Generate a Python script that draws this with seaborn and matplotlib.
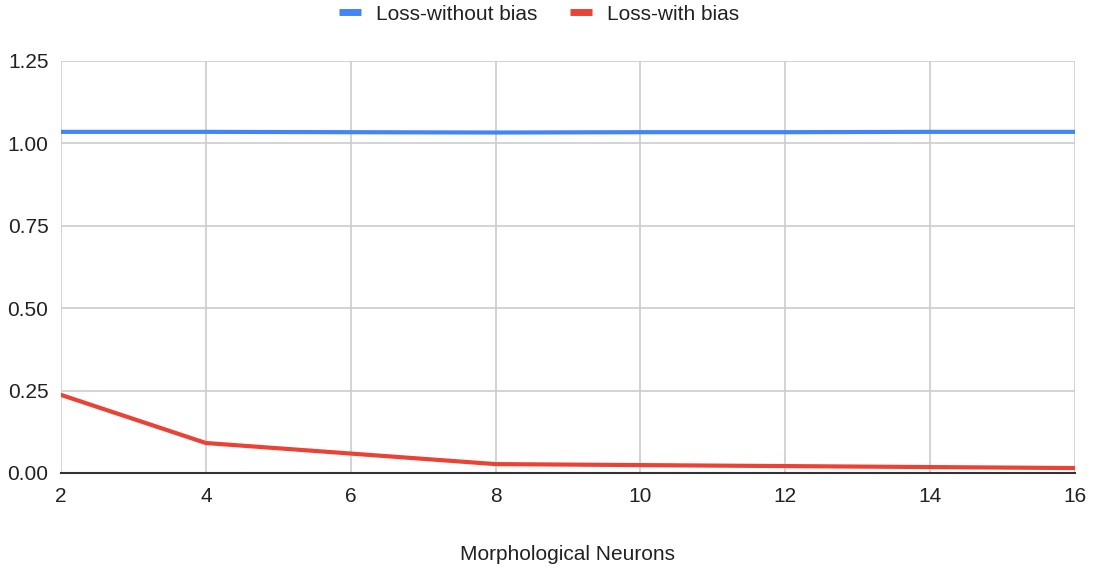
import matplotlib
matplotlib.use("Agg")
import matplotlib.pyplot as plt
from matplotlib.lines import Line2D
import seaborn as sns
import pandas as pd

neurons = [2, 4, 6, 8, 10, 12, 14, 16]
loss_without_bias = [1.035, 1.035, 1.034, 1.033, 1.034, 1.034, 1.035, 1.035]
loss_with_bias = [0.237, 0.091, 0.059, 0.027, 0.024, 0.021, 0.018, 0.015]
y_ticks = [0.00, 0.25, 0.50, 0.75, 1.00, 1.25]
x_ticks = [2, 4, 6, 8, 10, 12, 14, 16]

df = pd.DataFrame({
    "Morphological Neurons": neurons * 2,
    "Loss": loss_without_bias + loss_with_bias,
    "Series": ["Loss-without bias"] * len(neurons) + ["Loss-with bias"] * len(neurons),
})

sns.set_style("white")
plt.rcParams['font.family'] = ['Liberation Sans', 'DejaVu Sans']

FS = 15
fig = plt.figure(figsize=(10.96, 5.75), dpi=100)
ax = fig.add_axes([61/1096, 1 - 473/575, (1075 - 61)/1096, (473 - 61)/575])

palette = {"Loss-without bias": "#4285f4", "Loss-with bias": "#ea4335"}
sns.lineplot(data=df, x="Morphological Neurons", y="Loss", hue="Series",
             palette=palette, linewidth=3, ax=ax, legend=False)

ax.set_xlim(2, 16)
ax.set_ylim(0, 1.25)
ax.set_xticks(x_ticks)
ax.set_xticklabels([str(v) for v in x_ticks])
ax.set_yticks(y_ticks)
ax.set_yticklabels([f"{v:.2f}" for v in y_ticks])
ax.grid(True, color="#cccccc", linewidth=1.2)
ax.set_axisbelow(True)
for s in ["top", "right", "left"]:
    ax.spines[s].set_visible(False)
ax.spines["bottom"].set_color("#333333")
ax.spines["bottom"].set_linewidth(1.5)
ax.tick_params(axis="both", length=0, labelsize=FS, colors="#222222")
ax.tick_params(axis="x", pad=10)
ax.tick_params(axis="y", pad=9)
ax.set_ylabel("")
ax.set_xlabel("Morphological Neurons", fontsize=FS, color="#222222", labelpad=28)

handles = [Line2D([0], [0], color=palette[k], linewidth=5, solid_capstyle="butt") for k in palette]
fig.legend(handles, list(palette.keys()), loc="center", bbox_to_anchor=(539/1096, 1 - 14/575),
           ncol=2, frameon=False, fontsize=FS, handlelength=1.05, columnspacing=1.6,
           handletextpad=0.72, labelcolor="#222222")

fig.savefig("out.png", dpi=100)
